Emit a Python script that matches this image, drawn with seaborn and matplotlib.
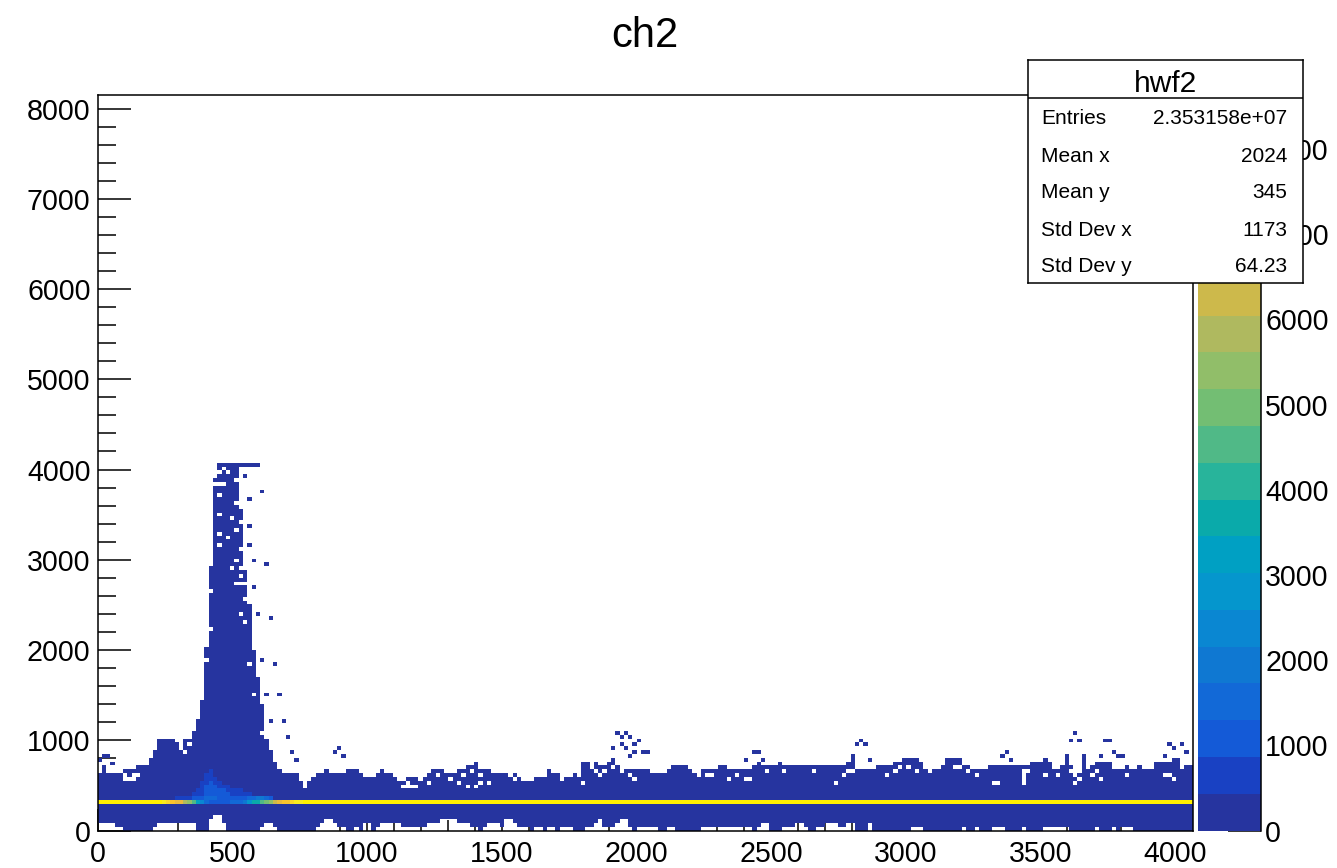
import numpy as np
import pandas as pd
import matplotlib
matplotlib.use("Agg")
import matplotlib.pyplot as plt
from matplotlib.colors import ListedColormap
from matplotlib.ticker import FixedLocator
import seaborn as sns

title = "ch2"
stats_name = "hwf2"
stats_labels = ["Entries", "Mean x", "Mean y", "Std Dev x", "Std Dev y"]
stats_values = ["2.353158e+07", "2024", "345", "1173", "64.23"]

n_bins_x, n_bins_y = 256, 192
x_max, y_max, z_max = 4066.0, 8150.0, 8635.0

band_colors = ["#26349F", "#1941C3", "#145AD7", "#1269D7", "#0F78D2", "#0A87D2", "#0596CD",
               "#00A0C3", "#0AAAAA", "#28B49B", "#50B987", "#73BE73", "#91BE69", "#AFB95F",
               "#CDB94B", "#EBB93C", "#FAC32D", "#FAD728", "#FAEB1E", "#FFF000"]

# number of filled rows per x bin (upper edge of the dense band)
envelope = [15,17,15,15,15,15,16,16,16,17, 17,17,19,21,24,24,24,24,23,22,
            24,24,26,29,34,48,69,92,96,96, 96,96,96,84,68,59,47,40,33,24,
            21,18,16,15,15,15,15,14,12,13, 14,15,15,16,15,15,15,15,16,16,
            16,15,14,14,14,15,16,15,15,14, 13,13,14,14,14,13,14,15,16,16,
            16,15,15,15,16,16,17,17,18,16, 16,16,15,15,15,15,15,15,14,13,
            13,13,14,14,14,16,15,15,14,14, 15,15,15,18,18,16,18,17,17,18,
            19,17,16,16,16,16,16,16,16,15, 15,15,15,16,17,17,17,17,16,15,
            14,16,16,16,16,17,17,16,16,16, 16,16,16,17,18,17,17,17,17,18,
            17,17,17,17,17,17,17,17,17,17, 17,17,17,17,17,18,19,16,16,16,
            16,16,17,17,17,17,18,18,19,19, 19,19,18,16,15,16,16,17,19,19,
            19,19,17,17,16,16,16,16,17,17, 17,17,17,17,17,17,17,17,18,18,
            18,19,18,16,16,17,19,17,14,15, 19,16,17,18,18,18,18,16,16,16,
            17,16,16,17,16,16,16,18,18,18, 18,19,19,16,17,17]

# empty rows at the very bottom, per x bin
floor_gap = [2,2,2,2,1,1,0,0,0,0, 0,0,0,1,2,2,2,2,2,2,
             2,2,2,0,0,0,3,4,4,2, 0,0,0,0,0,0,0,0,1,2,
             2,1,0,0,0,0,0,0,0,0, 0,1,2,3,3,2,1,1,0,0,
             1,0,2,2,0,1,2,2,2,2, 2,1,1,1,1,1,1,2,2,2,
             3,3,3,3,2,2,2,1,1,0, 1,2,2,2,1,3,3,2,1,1,
             1,0,1,1,0,1,1,0,1,1, 1,0,0,0,1,1,2,3,1,1,
             1,2,3,3,1,0,1,1,1,1, 1,0,0,1,1,0,0,0,0,0,
             0,1,1,1,1,1,1,1,1,1, 1,1,1,0,1,2,2,0,0,0,
             1,1,1,2,2,1,0,0,1,1, 2,2,2,1,1,2,2,0,0,0,
             2,0,0,0,0,0,0,0,0,0, 1,1,1,0,0,0,0,0,0,0,
             0,0,1,0,0,1,0,0,0,1, 1,1,0,0,0,0,1,0,0,0,
             0,1,1,1,1,1,1,0,0,0, 0,0,0,1,0,0,0,1,0,1,
             1,1,0,0,0,0,0,0,0,0, 0,0,0,0,0,0]

# isolated filled cells above the band
speck_bins = [1,2,0,3, 33,34,35,36,37, 34,38,35,35,35,36,39,36,40,37,41,38,39,42,40,43,44,45,46,
              55,56,57, 121,123,122,124,126,122,125,120,123,125,127,128,124,
              153,154,151,155, 178,177,179,176,180, 228,227,229,212,211,213,
              226,230,234,235,236,237,238,239,249,250,251,253,254]
speck_rows = [19,19,18,17, 95,95,95,95,95, 92,88,86,79,74,70,69,63,55,56,43,44,35,35,28,28,24,20,18,
              20,21,19, 25,25,24,24,23,22,22,21,21,20,20,20,19,
              20,20,18,18, 23,22,22,19,18, 25,23,23,20,19,18,
              19,19,19,23,23,20,19,19,19,22,21,22,20]

# empty cells inside the band
hole_bins = [29,28,30,27,28,29,28,32,32,28,31,33,32,28,30,28,33,32,33,31,33,32,33,34,26,34,33,34,26,25,35,36,38,
             21,20,19, 6,7,8,6,8,9, 40,41,41,47,48,
             72,71,72,73,74,77,79,82,84,86,88,85,87,89,91,89,96,97,
             108,110,112,113,116,117,118,120,122,124,125,
             142,143,147,149,151,152,156,160,
             167,172,174,175,176,184,186,187,189,191,
             200,201,203,205,209,210,216,216,216,221,224,227,228,229,
             216,217,232,233,234,240,249,250,251]
hole_rows = [94,93,93,90,90,90,87,91,85,82,81,80,78,77,76,74,73,70,68,68,66,64,64,64,62,60,56,54,52,44,43,35,25,
             22,20,21, 13,13,13,14,14,14, 21,19,20,13,11,
             12,11,11,11,11,12,14,13,12,11,11,14,15,14,12,12,14,13,
             13,14,14,12,15,14,15,16,15,14,13,
             14,14,13,14,13,13,15,15,
             15,12,14,15,15,14,15,16,16,15,
             16,16,15,14,12,12,12,13,14,14,14,15,12,13,
             15,15,14,15,13,14,14,14,13]

# lower-value cluster above the bright pedestal line
glow_rows = [8, 9, 10, 11, 12, 13, 14, 15]
glow_start = [18, 22, 23, 24, 24, 25, 25, 26]
glow_values = [
    [600,600,700,800,900,1000,1200,1300,1400,1300,1200,1200,1100,1100,1100,1100,1200,1400,1500,1800,1800,1500,1000],
    [600,700,800,900,1100,1200,1100,1000,900,800,800,800,700,600],
    [600,800,900,1100,1100,1000,900,800,700,600,600],
    [700,1000,1100,1000,800,700,600],
    [700,800,900,700,600],
    [700,800,700],
    [700,800],
    [700],
]

# bright pedestal row, per x bin, from the left until it settles
pedestal_row = 7
pedestal_left = [8400]*15 + [8000,7500,7200,6800,6500,6000,5300,4400,3400,2200,1400,
                             1100,1100,1100,1100,1200,1300,1400,1700,2000,3000,3500,3800,
                             4400,4900,5500,6300,6800,7000,7200,7400,7800,8000]
pedestal_rest = [8400]*(n_bins_x - len(pedestal_left))
body_value = 200.0

counts = np.zeros((n_bins_y, n_bins_x))
for b, (top, gap) in enumerate(zip(envelope, floor_gap)):
    counts[gap:top, b] = body_value
counts[hole_rows, hole_bins] = 0
counts[speck_rows, speck_bins] = body_value
for r, s, vals in zip(glow_rows, glow_start, glow_values):
    counts[r, s:s + len(vals)] = vals
counts[pedestal_row] = pedestal_left + pedestal_rest

bw, bh = x_max / n_bins_x, y_max / n_bins_y
frame = pd.DataFrame(counts)

W, H = 1337, 868
sns.set_theme(style="white", rc={"font.family": ["Liberation Sans", "DejaVu Sans"]})
plt.rcParams["font.family"] = ["Liberation Sans", "DejaVu Sans"]


def rect(x0, y0, x1, y1):
    return [x0 / W, 1 - y1 / H, (x1 - x0) / W, (y1 - y0) / H]


fig = plt.figure(figsize=(W / 100, H / 100), dpi=100, facecolor="white")
ax = fig.add_axes(rect(97.5, 95, 1193, 830.5))
cax = fig.add_axes(rect(1198, 95, 1261, 830.5))

sns.heatmap(frame, ax=ax, cbar_ax=cax, cmap=ListedColormap(band_colors), vmin=0, vmax=z_max,
            mask=counts <= 0, xticklabels=False, yticklabels=False, linewidths=0)
ax.invert_yaxis()
ax.set_xlim(0, n_bins_x)
ax.set_ylim(0, n_bins_y)
ax.set_xlabel("")
ax.set_ylabel("")

x_major = np.arange(0, 4001, 500)
x_minor = np.arange(0, 4001, 100)
y_major = np.arange(0, 8001, 1000)
y_minor = np.arange(0, 8001, 200)
ax.set_xticks(x_major / bw)
ax.set_xticklabels([str(v) for v in x_major], rotation=0, fontsize=20.6, color="black")
ax.set_xticks(x_minor / bw, minor=True)
ax.set_yticks(y_major / bh)
ax.set_yticklabels([str(v) for v in y_major], rotation=0, fontsize=20.6, color="black")
ax.set_yticks(y_minor / bh, minor=True)
ax.tick_params(axis="x", which="major", direction="in", length=16, width=1.1, color="black",
               pad=7, bottom=True, top=False)
ax.tick_params(axis="x", which="minor", direction="in", length=8, width=1.1, color="black",
               bottom=True, top=False)
ax.tick_params(axis="y", which="major", direction="in", length=24, width=1.1, color="black",
               pad=5, left=True, right=False)
ax.tick_params(axis="y", which="minor", direction="in", length=13, width=1.1, color="black",
               left=True, right=False)
for s in ax.spines.values():
    s.set_visible(True)
    s.set_color("black")
    s.set_linewidth(1.1)
    s.set_zorder(5)

cb = ax.collections[0].colorbar
cb.set_ticks(list(y_major))
cb.ax.yaxis.set_major_locator(FixedLocator(y_major))
cb.ax.yaxis.set_ticks_position("right")
cb.ax.set_yticklabels([str(v) for v in y_major], fontsize=20.6, color="black")
cb.ax.tick_params(axis="y", which="major", direction="in", length=24, width=1.1, color="black",
                  pad=3, right=True, left=False)
cb.ax.minorticks_off()
cb.outline.set_visible(False)
cb.ax.spines["right"].set_visible(True)
cb.ax.spines["right"].set_color("black")
cb.ax.spines["right"].set_linewidth(1.1)

fig.text(645 / W, 1 - 36 / H, title, ha="center", va="center", fontsize=30, color="black")

# statistics box
bx0, by0, bx1, by1 = 1028, 60, 1303, 283
box = fig.add_axes(rect(bx0, by0, bx1, by1), zorder=10, facecolor="white")
box.set_xlim(bx0, bx1)
box.set_ylim(by1, by0)
box.set_xticks([])
box.set_yticks([])
for s in box.spines.values():
    s.set_visible(True)
    s.set_color("black")
    s.set_linewidth(1.1)
box.axhline(98, color="black", lw=1.1)
box.text(1165, 84, stats_name, ha="center", va="center", fontsize=21.5, color="black")
for yy, lab, val in zip([119, 157, 192, 230, 266], stats_labels, stats_values):
    box.text(1041, yy, lab, ha="left", va="center", fontsize=15, color="black")
    box.text(1287, yy, val, ha="right", va="center", fontsize=15, color="black")

fig.savefig("out.png", dpi=100, facecolor="white")
